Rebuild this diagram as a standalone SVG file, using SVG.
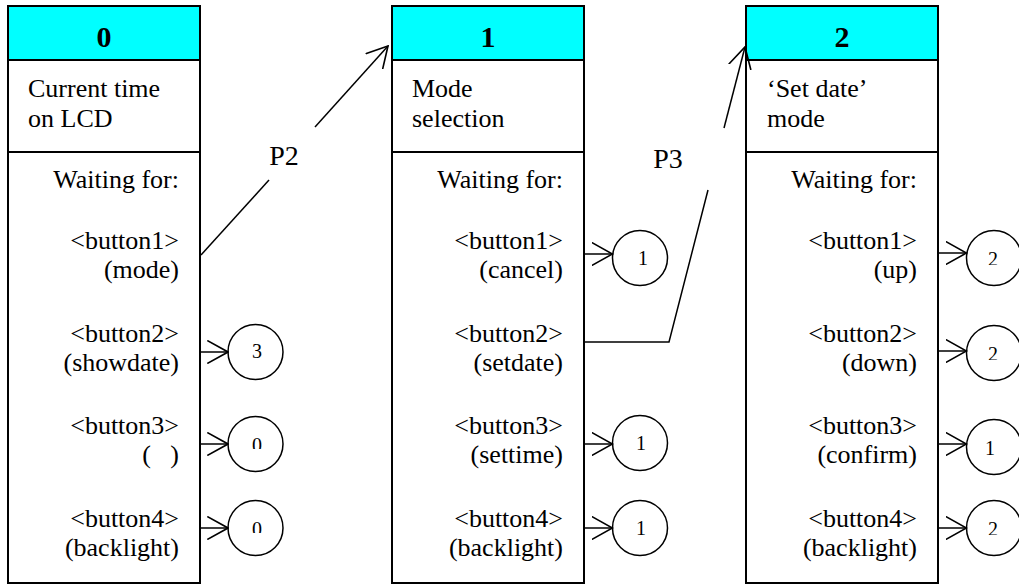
<svg xmlns="http://www.w3.org/2000/svg" width="1019" height="584" viewBox="0 0 1019 584" font-family="'Liberation Serif', Tinos, 'Times New Roman', Times, 'Nimbus Roman', 'Noto Serif', 'DejaVu Serif', FreeSerif, serif">
<style>
.box{fill:#fff;stroke:#000;stroke-width:2}
.hdr{fill:#00ffff;stroke:#000;stroke-width:2}
.div{stroke:#000;stroke-width:2}
text{font-family:'Liberation Serif',Tinos,'Times New Roman',Times,'Nimbus Roman','Noto Serif','DejaVu Serif',FreeSerif,serif;fill:#000}
.t{font-size:26px}
.r{font-size:26px;text-anchor:end}
.h{font-size:30px;font-weight:bold;text-anchor:middle}
.lbl{font-size:28px;text-anchor:middle}
.d{font-size:20px;text-anchor:middle}
.c{fill:#fff;stroke:#000;stroke-width:1.5}
.ln{fill:none;stroke:#000;stroke-width:1.5}
</style>
<defs>
<marker id="arr" markerUnits="userSpaceOnUse" markerWidth="22" markerHeight="24" viewBox="0 0 20 22" refX="19" refY="11" orient="auto">
<path d="M0,0.5 L19,11 L0,21.5" fill="none" stroke="#000" stroke-width="1.5"/>
</marker>
<clipPath id="k03" clipPathUnits="userSpaceOnUse"><rect x="230" y="320" width="50" height="38"/></clipPath>
<clipPath id="k00a" clipPathUnits="userSpaceOnUse"><rect x="230" y="415" width="50" height="34"/></clipPath>
<clipPath id="k00b" clipPathUnits="userSpaceOnUse"><rect x="230" y="500" width="50" height="33"/></clipPath>
<clipPath id="k21" clipPathUnits="userSpaceOnUse"><rect x="968" y="230" width="51" height="35"/></clipPath>
<clipPath id="k22" clipPathUnits="userSpaceOnUse"><rect x="968" y="325" width="51" height="35"/></clipPath>
<clipPath id="k24" clipPathUnits="userSpaceOnUse"><rect x="968" y="500" width="51" height="35"/></clipPath>
</defs>

<g id="state0">
<rect class="box" x="8" y="6" width="192" height="577"/>
<rect class="hdr" x="8" y="6" width="192" height="54"/>
<line class="div" x1="8" y1="152" x2="200" y2="152"/>
<text class="h" x="104" y="47">0</text>
<text class="t" x="28" y="97">Current time</text>
<text class="t" x="28" y="127">on LCD</text>
<text class="r" x="179" y="188">Waiting for:</text>
<text class="r" x="179" y="249">&lt;button1&gt;</text>
<text class="r" x="179" y="278">(mode)</text>
<text class="r" x="179" y="342">&lt;button2&gt;</text>
<text class="r" x="179" y="371">(showdate)</text>
<text class="r" x="179" y="434">&lt;button3&gt;</text>
<text class="r" x="179" y="463">(&#160;&#160;&#160;)</text>
<text class="r" x="179" y="527">&lt;button4&gt;</text>
<text class="r" x="179" y="556">(backlight)</text>
</g>

<g id="state1">
<rect class="box" x="392" y="6" width="192" height="577"/>
<rect class="hdr" x="392" y="6" width="192" height="54"/>
<line class="div" x1="392" y1="152" x2="584" y2="152"/>
<text class="h" x="488" y="47">1</text>
<text class="t" x="412" y="97">Mode</text>
<text class="t" x="412" y="127">selection</text>
<text class="r" x="563" y="188">Waiting for:</text>
<text class="r" x="563" y="249">&lt;button1&gt;</text>
<text class="r" x="563" y="278">(cancel)</text>
<text class="r" x="563" y="342">&lt;button2&gt;</text>
<text class="r" x="563" y="371">(setdate)</text>
<text class="r" x="563" y="434">&lt;button3&gt;</text>
<text class="r" x="563" y="463">(settime)</text>
<text class="r" x="563" y="527">&lt;button4&gt;</text>
<text class="r" x="563" y="556">(backlight)</text>
</g>

<g id="state2">
<rect class="box" x="746" y="6" width="192" height="577"/>
<rect class="hdr" x="746" y="6" width="192" height="54"/>
<line class="div" x1="746" y1="152" x2="938" y2="152"/>
<text class="h" x="842" y="47">2</text>
<text class="t" x="767" y="97">‘Set date’</text>
<text class="t" x="767" y="127">mode</text>
<text class="r" x="917" y="188">Waiting for:</text>
<text class="r" x="917" y="249">&lt;button1&gt;</text>
<text class="r" x="917" y="278">(up)</text>
<text class="r" x="917" y="342">&lt;button2&gt;</text>
<text class="r" x="917" y="371">(down)</text>
<text class="r" x="917" y="434">&lt;button3&gt;</text>
<text class="r" x="917" y="463">(confirm)</text>
<text class="r" x="917" y="527">&lt;button4&gt;</text>
<text class="r" x="917" y="556">(backlight)</text>
</g>

<g id="target-0-b2"><circle class="c" cx="255.5" cy="352" r="27.5"/><text class="d" x="257" y="358" clip-path="url(#k03)">3</text></g>
<g id="target-0-b3"><circle class="c" cx="255.5" cy="444" r="27.5"/><text class="d" x="257" y="452" clip-path="url(#k00a)">0</text></g>
<g id="target-0-b4"><circle class="c" cx="255.5" cy="528" r="27.5"/><text class="d" x="257" y="536" clip-path="url(#k00b)">0</text></g>

<g id="target-1-b1"><circle class="c" cx="640" cy="258" r="27.5"/><text class="d" x="643" y="265">1</text></g>
<g id="target-1-b3"><circle class="c" cx="640" cy="443" r="27.5"/><text class="d" x="641" y="450">1</text></g>
<g id="target-1-b4"><circle class="c" cx="640" cy="528" r="27.5"/><text class="d" x="641" y="535">1</text></g>

<g id="target-2-b1"><circle class="c" cx="994" cy="258" r="27.5"/><text class="d" x="993" y="266" clip-path="url(#k21)">2</text></g>
<g id="target-2-b2"><circle class="c" cx="994" cy="353" r="27.5"/><text class="d" x="993" y="361" clip-path="url(#k22)">2</text></g>
<g id="target-2-b3"><circle class="c" cx="994" cy="447" r="27.5"/><text class="d" x="990" y="455">1</text></g>
<g id="target-2-b4"><circle class="c" cx="994" cy="528" r="27.5"/><text class="d" x="993" y="536" clip-path="url(#k24)">2</text></g>

<g id="connectors">
<line class="ln" x1="201" y1="352" x2="228" y2="352" marker-end="url(#arr)"/>
<line class="ln" x1="201" y1="444" x2="228" y2="444" marker-end="url(#arr)"/>
<line class="ln" x1="201" y1="528" x2="228" y2="528" marker-end="url(#arr)"/>
<line class="ln" x1="585" y1="254" x2="612.5" y2="254" marker-end="url(#arr)"/>
<line class="ln" x1="585" y1="444" x2="612.5" y2="444" marker-end="url(#arr)"/>
<line class="ln" x1="585" y1="528" x2="612.5" y2="528" marker-end="url(#arr)"/>
<line class="ln" x1="939" y1="253" x2="966.5" y2="253" marker-end="url(#arr)"/>
<line class="ln" x1="939" y1="351" x2="966.5" y2="351" marker-end="url(#arr)"/>
<line class="ln" x1="939" y1="444" x2="966.5" y2="444" marker-end="url(#arr)"/>
<line class="ln" x1="939" y1="528" x2="966.5" y2="528" marker-end="url(#arr)"/>
<line class="ln" x1="201" y1="255" x2="269" y2="180"/>
<line class="ln" x1="315" y1="127" x2="388" y2="46" marker-end="url(#arr)"/>
<polyline class="ln" points="585,342 669,342 708,190"/>
<line class="ln" x1="724" y1="128" x2="745" y2="47" marker-end="url(#arr)"/>
<text class="lbl" x="284" y="165">P2</text>
<text class="lbl" x="668" y="168">P3</text>
</g>
</svg>
